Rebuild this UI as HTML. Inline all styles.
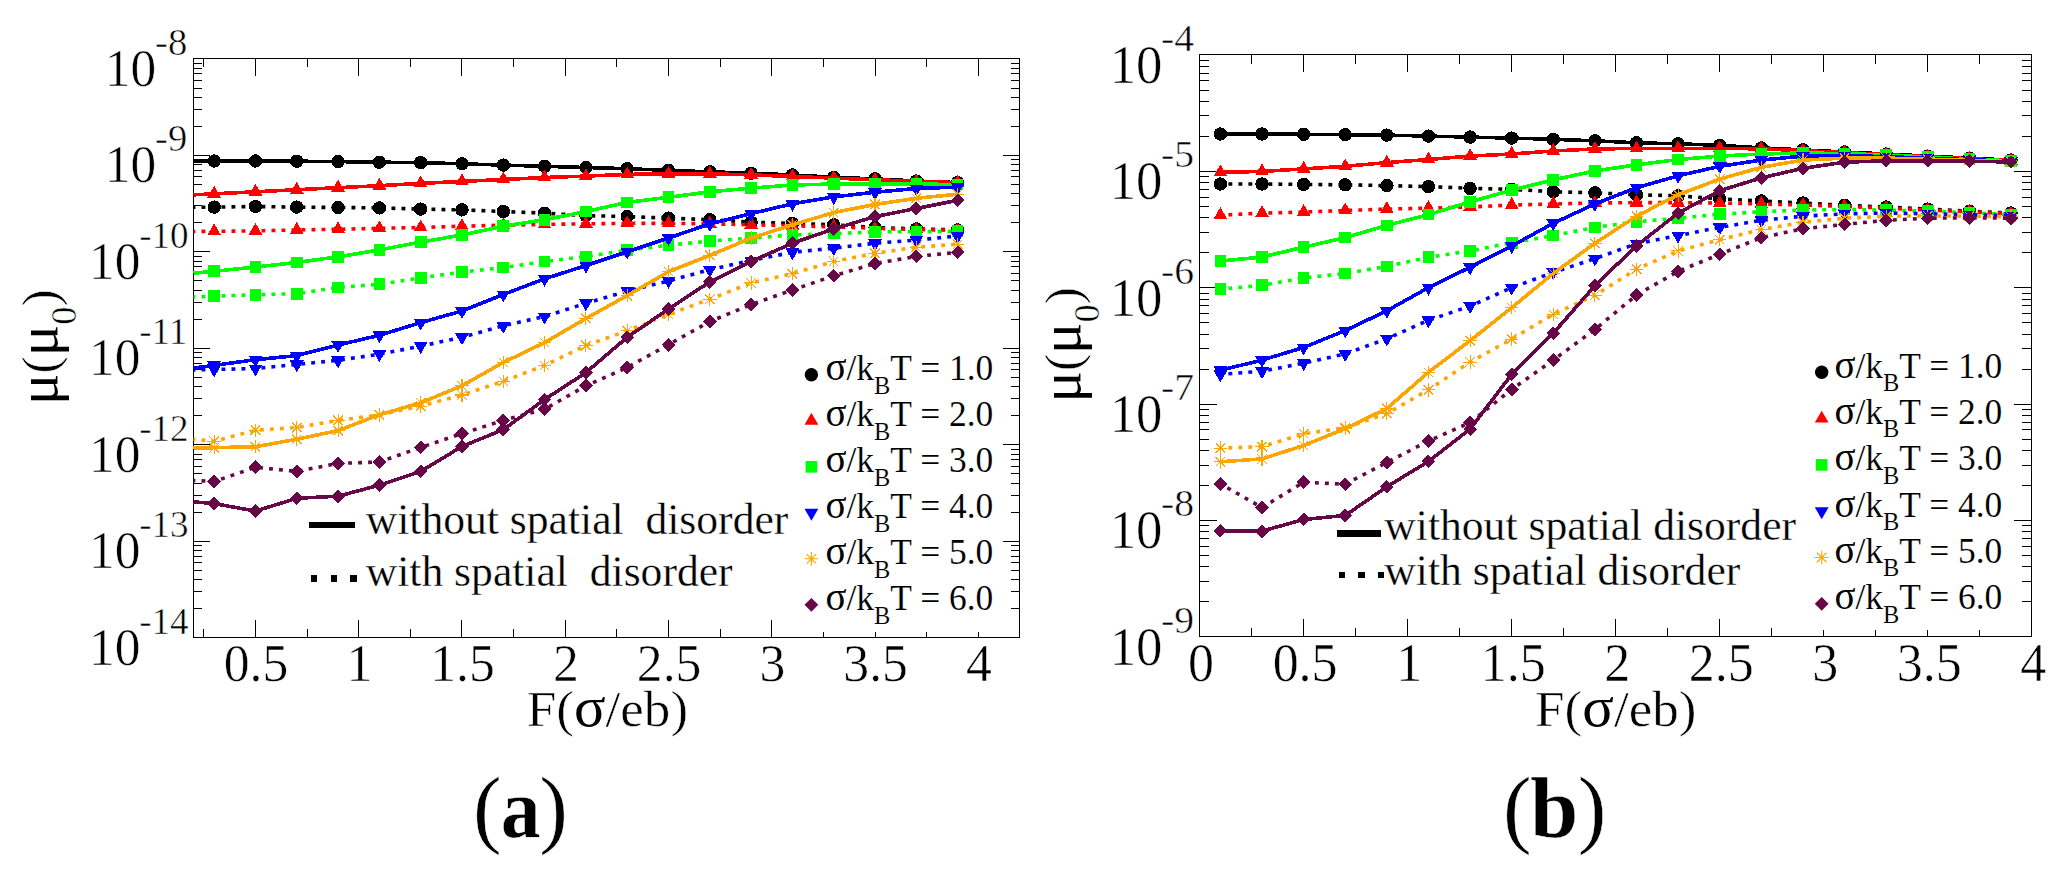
<!DOCTYPE html>
<html lang="en"><head><meta charset="utf-8"><title>Mobility versus field</title>
<style>html,body{margin:0;padding:0;background:#fff}body{width:2062px;height:873px;overflow:hidden}svg{display:block}text{font-family:'Liberation Serif','DejaVu Serif',serif;fill:#000;stroke:#fff;stroke-width:.5px}.gk{stroke:none}.m{stroke-width:.3px}.s{stroke-width:.12px}</style>
</head><body>
<svg width="2062" height="873" viewBox="0 0 2062 873">
<rect width="2062" height="873" fill="#fff"/>
<g id="panel-a">
<g shape-rendering="crispEdges">
<path d="M203.83 58.4v8.4M203.83 637.2v-8.4M255.46 58.4v17.4M255.46 637.2v-17.4M307.09 58.4v8.4M307.09 637.2v-8.4M358.72 58.4v17.4M358.72 637.2v-17.4M410.35 58.4v8.4M410.35 637.2v-8.4M461.98 58.4v17.4M461.98 637.2v-17.4M513.61 58.4v8.4M513.61 637.2v-8.4M565.25 58.4v17.4M565.25 637.2v-17.4M616.88 58.4v8.4M616.88 637.2v-8.4M668.51 58.4v17.4M668.51 637.2v-17.4M720.14 58.4v8.4M720.14 637.2v-8.4M771.77 58.4v17.4M771.77 637.2v-17.4M823.4 58.4v8.4M823.4 637.2v-5.4M875.03 58.4v17.4M875.03 637.2v-5.4M926.66 58.4v8.4M926.66 637.2v-5.4M978.29 58.4v17.4M978.29 637.2v-5.4M193.5 637.2h16.6M1019.6 637.2h-16.6M193.5 608.76h8.4M1019.6 608.76h-8.4M193.5 591.77h8.4M1019.6 591.77h-8.4M193.5 579.72h8.4M1019.6 579.72h-8.4M193.5 570.37h8.4M1019.6 570.37h-8.4M193.5 562.73h8.4M1019.6 562.73h-8.4M193.5 556.28h8.4M1019.6 556.28h-8.4M193.5 550.68h8.4M1019.6 550.68h-8.4M193.5 545.75h8.4M1019.6 545.75h-8.4M193.5 541.33h16.6M1019.6 541.33h-16.6M193.5 512.29h8.4M1019.6 512.29h-8.4M193.5 495.31h8.4M1019.6 495.31h-8.4M193.5 483.25h8.4M1019.6 483.25h-8.4M193.5 473.91h8.4M1019.6 473.91h-8.4M193.5 466.27h8.4M1019.6 466.27h-8.4M193.5 459.81h8.4M1019.6 459.81h-8.4M193.5 454.22h8.4M1019.6 454.22h-8.4M193.5 449.28h8.4M1019.6 449.28h-8.4M193.5 444.87h16.6M1019.6 444.87h-16.6M193.5 415.83h8.4M1019.6 415.83h-8.4M193.5 398.84h8.4M1019.6 398.84h-8.4M193.5 386.79h8.4M1019.6 386.79h-8.4M193.5 377.44h8.4M1019.6 377.44h-8.4M193.5 369.8h8.4M1019.6 369.8h-8.4M193.5 363.34h8.4M1019.6 363.34h-8.4M193.5 357.75h8.4M1019.6 357.75h-8.4M193.5 352.81h8.4M1019.6 352.81h-8.4M193.5 348.4h16.6M1019.6 348.4h-16.6M193.5 319.36h8.4M1019.6 319.36h-8.4M193.5 302.37h8.4M1019.6 302.37h-8.4M193.5 290.32h8.4M1019.6 290.32h-8.4M193.5 280.97h8.4M1019.6 280.97h-8.4M193.5 273.33h8.4M1019.6 273.33h-8.4M193.5 266.88h8.4M1019.6 266.88h-8.4M193.5 261.28h8.4M1019.6 261.28h-8.4M193.5 256.35h8.4M1019.6 256.35h-8.4M193.5 251.93h16.6M1019.6 251.93h-16.6M193.5 222.89h8.4M1019.6 222.89h-8.4M193.5 205.91h8.4M1019.6 205.91h-8.4M193.5 193.85h8.4M1019.6 193.85h-8.4M193.5 184.51h8.4M1019.6 184.51h-8.4M193.5 176.87h8.4M1019.6 176.87h-8.4M193.5 170.41h8.4M1019.6 170.41h-8.4M193.5 164.82h8.4M1019.6 164.82h-8.4M193.5 159.88h8.4M1019.6 159.88h-8.4M193.5 155.47h16.6M1019.6 155.47h-16.6M193.5 126.43h8.4M1019.6 126.43h-8.4M193.5 109.44h8.4M1019.6 109.44h-8.4M193.5 97.39h8.4M1019.6 97.39h-8.4M193.5 88.04h8.4M1019.6 88.04h-8.4M193.5 80.4h8.4M1019.6 80.4h-8.4M193.5 73.94h8.4M1019.6 73.94h-8.4M193.5 68.35h8.4M1019.6 68.35h-8.4M193.5 63.41h8.4M1019.6 63.41h-8.4M193.5 58.4h16.6M1019.6 58.4h-16.6" stroke="#000" stroke-width="1" fill="none"/>
<rect x="193.5" y="58.4" width="826.1" height="578.8" fill="none" stroke="#000" stroke-width="1"/>
</g>
<g shape-rendering="crispEdges">
<path d="M193.5 161L214.15 161L255.46 161L296.76 161.2L338.07 161.6L379.37 162.2L420.68 162.6L461.98 163.8L503.29 165.1L544.59 166.3L585.9 167.5L627.2 168.7L668.51 170.4L709.81 171.8L751.12 173.2L792.42 174.9L833.73 177.3L875.03 178.9L916.34 181L957.64 182.6" stroke="#000000" stroke-width="3.6" fill="none" stroke-linejoin="round"/>
<circle cx="214.15" cy="161" r="6.7" fill="#000000"/><circle cx="255.46" cy="161" r="6.7" fill="#000000"/><circle cx="296.76" cy="161.2" r="6.7" fill="#000000"/><circle cx="338.07" cy="161.6" r="6.7" fill="#000000"/><circle cx="379.37" cy="162.2" r="6.7" fill="#000000"/><circle cx="420.68" cy="162.6" r="6.7" fill="#000000"/><circle cx="461.98" cy="163.8" r="6.7" fill="#000000"/><circle cx="503.29" cy="165.1" r="6.7" fill="#000000"/><circle cx="544.59" cy="166.3" r="6.7" fill="#000000"/><circle cx="585.9" cy="167.5" r="6.7" fill="#000000"/><circle cx="627.2" cy="168.7" r="6.7" fill="#000000"/><circle cx="668.51" cy="170.4" r="6.7" fill="#000000"/><circle cx="709.81" cy="171.8" r="6.7" fill="#000000"/><circle cx="751.12" cy="173.2" r="6.7" fill="#000000"/><circle cx="792.42" cy="174.9" r="6.7" fill="#000000"/><circle cx="833.73" cy="177.3" r="6.7" fill="#000000"/><circle cx="875.03" cy="178.9" r="6.7" fill="#000000"/><circle cx="916.34" cy="181" r="6.7" fill="#000000"/><circle cx="957.64" cy="182.6" r="6.7" fill="#000000"/>
<path d="M193.5 207.3L214.15 207.1L255.46 206.5L296.76 207.1L338.07 207.5L379.37 207.9L420.68 209.1L461.98 209.9L503.29 211.5L544.59 213.2L585.9 215.6L627.2 216.6L668.51 218.1L709.81 219.7L751.12 222.2L792.42 223.4L833.73 224.8L875.03 227.5L916.34 228.9L957.64 229.9" stroke="#000000" stroke-width="3.6" fill="none" stroke-linejoin="round" stroke-dasharray="3.9 6.1" stroke-dashoffset="2" shape-rendering="geometricPrecision"/>
<circle cx="214.15" cy="207.1" r="6.7" fill="#000000"/><circle cx="255.46" cy="206.5" r="6.7" fill="#000000"/><circle cx="296.76" cy="207.1" r="6.7" fill="#000000"/><circle cx="338.07" cy="207.5" r="6.7" fill="#000000"/><circle cx="379.37" cy="207.9" r="6.7" fill="#000000"/><circle cx="420.68" cy="209.1" r="6.7" fill="#000000"/><circle cx="461.98" cy="209.9" r="6.7" fill="#000000"/><circle cx="503.29" cy="211.5" r="6.7" fill="#000000"/><circle cx="544.59" cy="213.2" r="6.7" fill="#000000"/><circle cx="585.9" cy="215.6" r="6.7" fill="#000000"/><circle cx="627.2" cy="216.6" r="6.7" fill="#000000"/><circle cx="668.51" cy="218.1" r="6.7" fill="#000000"/><circle cx="709.81" cy="219.7" r="6.7" fill="#000000"/><circle cx="751.12" cy="222.2" r="6.7" fill="#000000"/><circle cx="792.42" cy="223.4" r="6.7" fill="#000000"/><circle cx="833.73" cy="224.8" r="6.7" fill="#000000"/><circle cx="875.03" cy="227.5" r="6.7" fill="#000000"/><circle cx="916.34" cy="228.9" r="6.7" fill="#000000"/><circle cx="957.64" cy="229.9" r="6.7" fill="#000000"/>
<path d="M193.5 194.8L214.15 193.8L255.46 191.8L296.76 189.7L338.07 187.7L379.37 185.7L420.68 183.4L461.98 181.4L503.29 179.5L544.59 177.5L585.9 176.1L627.2 174.4L668.51 173.8L709.81 173.8L751.12 174.9L792.42 176.5L833.73 178.1L875.03 179.7L916.34 181.4L957.64 182.6" stroke="#ff0000" stroke-width="3.6" fill="none" stroke-linejoin="round"/>
<path d="M214.15 185.83L221.05 197.78L207.25 197.78Z" fill="#ff0000"/><path d="M255.46 183.83L262.36 195.78L248.56 195.78Z" fill="#ff0000"/><path d="M296.76 181.73L303.66 193.68L289.86 193.68Z" fill="#ff0000"/><path d="M338.07 179.73L344.97 191.68L331.17 191.68Z" fill="#ff0000"/><path d="M379.37 177.73L386.27 189.68L372.47 189.68Z" fill="#ff0000"/><path d="M420.68 175.43L427.58 187.38L413.78 187.38Z" fill="#ff0000"/><path d="M461.98 173.43L468.88 185.38L455.08 185.38Z" fill="#ff0000"/><path d="M503.29 171.53L510.19 183.48L496.39 183.48Z" fill="#ff0000"/><path d="M544.59 169.53L551.49 181.48L537.69 181.48Z" fill="#ff0000"/><path d="M585.9 168.13L592.8 180.08L579 180.08Z" fill="#ff0000"/><path d="M627.2 166.43L634.1 178.38L620.3 178.38Z" fill="#ff0000"/><path d="M668.51 165.83L675.41 177.78L661.61 177.78Z" fill="#ff0000"/><path d="M709.81 165.83L716.71 177.78L702.91 177.78Z" fill="#ff0000"/><path d="M751.12 166.93L758.02 178.88L744.22 178.88Z" fill="#ff0000"/><path d="M792.42 168.53L799.32 180.48L785.52 180.48Z" fill="#ff0000"/><path d="M833.73 170.13L840.63 182.08L826.83 182.08Z" fill="#ff0000"/><path d="M875.03 171.73L881.93 183.68L868.13 183.68Z" fill="#ff0000"/><path d="M916.34 173.43L923.24 185.38L909.44 185.38Z" fill="#ff0000"/><path d="M957.64 174.63L964.54 186.58L950.74 186.58Z" fill="#ff0000"/>
<path d="M193.5 231.5L214.15 231.3L255.46 230.9L296.76 229.9L338.07 229.3L379.37 228.3L420.68 227.5L461.98 226.2L503.29 225.2L544.59 224.4L585.9 223.8L627.2 223.4L668.51 223.4L709.81 223.8L751.12 224.8L792.42 225.8L833.73 226.8L875.03 228.3L916.34 229.5L957.64 230.3" stroke="#ff0000" stroke-width="3.6" fill="none" stroke-linejoin="round" stroke-dasharray="3.9 6.1" stroke-dashoffset="2" shape-rendering="geometricPrecision"/>
<path d="M214.15 223.33L221.05 235.28L207.25 235.28Z" fill="#ff0000"/><path d="M255.46 222.93L262.36 234.88L248.56 234.88Z" fill="#ff0000"/><path d="M296.76 221.93L303.66 233.88L289.86 233.88Z" fill="#ff0000"/><path d="M338.07 221.33L344.97 233.28L331.17 233.28Z" fill="#ff0000"/><path d="M379.37 220.33L386.27 232.28L372.47 232.28Z" fill="#ff0000"/><path d="M420.68 219.53L427.58 231.48L413.78 231.48Z" fill="#ff0000"/><path d="M461.98 218.23L468.88 230.18L455.08 230.18Z" fill="#ff0000"/><path d="M503.29 217.23L510.19 229.18L496.39 229.18Z" fill="#ff0000"/><path d="M544.59 216.43L551.49 228.38L537.69 228.38Z" fill="#ff0000"/><path d="M585.9 215.83L592.8 227.78L579 227.78Z" fill="#ff0000"/><path d="M627.2 215.43L634.1 227.38L620.3 227.38Z" fill="#ff0000"/><path d="M668.51 215.43L675.41 227.38L661.61 227.38Z" fill="#ff0000"/><path d="M709.81 215.83L716.71 227.78L702.91 227.78Z" fill="#ff0000"/><path d="M751.12 216.83L758.02 228.78L744.22 228.78Z" fill="#ff0000"/><path d="M792.42 217.83L799.32 229.78L785.52 229.78Z" fill="#ff0000"/><path d="M833.73 218.83L840.63 230.78L826.83 230.78Z" fill="#ff0000"/><path d="M875.03 220.33L881.93 232.28L868.13 232.28Z" fill="#ff0000"/><path d="M916.34 221.53L923.24 233.48L909.44 233.48Z" fill="#ff0000"/><path d="M957.64 222.33L964.54 234.28L950.74 234.28Z" fill="#ff0000"/>
<path d="M193.5 273.15L214.15 271.3L255.46 267L296.76 262.5L338.07 256.8L379.37 249.9L420.68 242.1L461.98 235L503.29 226.2L544.59 219.7L585.9 211.5L627.2 202.4L668.51 197.3L709.81 191.8L751.12 188.1L792.42 185L833.73 184L875.03 184L916.34 184L957.64 184.6" stroke="#00ff00" stroke-width="3.6" fill="none" stroke-linejoin="round"/>
<rect x="208.31" y="265.46" width="11.68" height="11.68" fill="#00ff00"/><rect x="249.62" y="261.16" width="11.68" height="11.68" fill="#00ff00"/><rect x="290.92" y="256.66" width="11.68" height="11.68" fill="#00ff00"/><rect x="332.23" y="250.96" width="11.68" height="11.68" fill="#00ff00"/><rect x="373.53" y="244.06" width="11.68" height="11.68" fill="#00ff00"/><rect x="414.84" y="236.26" width="11.68" height="11.68" fill="#00ff00"/><rect x="456.14" y="229.16" width="11.68" height="11.68" fill="#00ff00"/><rect x="497.45" y="220.36" width="11.68" height="11.68" fill="#00ff00"/><rect x="538.75" y="213.86" width="11.68" height="11.68" fill="#00ff00"/><rect x="580.06" y="205.66" width="11.68" height="11.68" fill="#00ff00"/><rect x="621.36" y="196.56" width="11.68" height="11.68" fill="#00ff00"/><rect x="662.67" y="191.46" width="11.68" height="11.68" fill="#00ff00"/><rect x="703.97" y="185.96" width="11.68" height="11.68" fill="#00ff00"/><rect x="745.28" y="182.26" width="11.68" height="11.68" fill="#00ff00"/><rect x="786.58" y="179.16" width="11.68" height="11.68" fill="#00ff00"/><rect x="827.89" y="178.16" width="11.68" height="11.68" fill="#00ff00"/><rect x="869.19" y="178.16" width="11.68" height="11.68" fill="#00ff00"/><rect x="910.5" y="178.16" width="11.68" height="11.68" fill="#00ff00"/><rect x="951.8" y="178.76" width="11.68" height="11.68" fill="#00ff00"/>
<path d="M193.5 296.85L214.15 296.2L255.46 294.7L296.76 293.7L338.07 287.4L379.37 284.3L420.68 277.8L461.98 272.1L503.29 267.6L544.59 261.5L585.9 256.4L627.2 250.3L668.51 245.2L709.81 241.1L751.12 238.1L792.42 235L833.73 233.6L875.03 231.9L916.34 231.5L957.64 231.3" stroke="#00ff00" stroke-width="3.6" fill="none" stroke-linejoin="round" stroke-dasharray="3.9 6.1" stroke-dashoffset="2" shape-rendering="geometricPrecision"/>
<rect x="208.31" y="290.36" width="11.68" height="11.68" fill="#00ff00"/><rect x="249.62" y="288.86" width="11.68" height="11.68" fill="#00ff00"/><rect x="290.92" y="287.86" width="11.68" height="11.68" fill="#00ff00"/><rect x="332.23" y="281.56" width="11.68" height="11.68" fill="#00ff00"/><rect x="373.53" y="278.46" width="11.68" height="11.68" fill="#00ff00"/><rect x="414.84" y="271.96" width="11.68" height="11.68" fill="#00ff00"/><rect x="456.14" y="266.26" width="11.68" height="11.68" fill="#00ff00"/><rect x="497.45" y="261.76" width="11.68" height="11.68" fill="#00ff00"/><rect x="538.75" y="255.66" width="11.68" height="11.68" fill="#00ff00"/><rect x="580.06" y="250.56" width="11.68" height="11.68" fill="#00ff00"/><rect x="621.36" y="244.46" width="11.68" height="11.68" fill="#00ff00"/><rect x="662.67" y="239.36" width="11.68" height="11.68" fill="#00ff00"/><rect x="703.97" y="235.26" width="11.68" height="11.68" fill="#00ff00"/><rect x="745.28" y="232.26" width="11.68" height="11.68" fill="#00ff00"/><rect x="786.58" y="229.16" width="11.68" height="11.68" fill="#00ff00"/><rect x="827.89" y="227.76" width="11.68" height="11.68" fill="#00ff00"/><rect x="869.19" y="226.06" width="11.68" height="11.68" fill="#00ff00"/><rect x="910.5" y="225.66" width="11.68" height="11.68" fill="#00ff00"/><rect x="951.8" y="225.46" width="11.68" height="11.68" fill="#00ff00"/>
<path d="M193.5 367.95L214.15 365.4L255.46 359.7L296.76 355.6L338.07 345L379.37 335.3L420.68 322.6L461.98 311L503.29 294.5L544.59 278.8L585.9 265.6L627.2 251.7L668.51 238.1L709.81 223.8L751.12 213.6L792.42 203.8L833.73 196.9L875.03 192.2L916.34 188.5L957.64 187.1" stroke="#0000ff" stroke-width="3.6" fill="none" stroke-linejoin="round"/>
<path d="M214.15 373.37L221.05 361.42L207.25 361.42Z" fill="#0000ff"/><path d="M255.46 367.67L262.36 355.72L248.56 355.72Z" fill="#0000ff"/><path d="M296.76 363.57L303.66 351.62L289.86 351.62Z" fill="#0000ff"/><path d="M338.07 352.97L344.97 341.02L331.17 341.02Z" fill="#0000ff"/><path d="M379.37 343.27L386.27 331.32L372.47 331.32Z" fill="#0000ff"/><path d="M420.68 330.57L427.58 318.62L413.78 318.62Z" fill="#0000ff"/><path d="M461.98 318.97L468.88 307.02L455.08 307.02Z" fill="#0000ff"/><path d="M503.29 302.47L510.19 290.52L496.39 290.52Z" fill="#0000ff"/><path d="M544.59 286.77L551.49 274.82L537.69 274.82Z" fill="#0000ff"/><path d="M585.9 273.57L592.8 261.62L579 261.62Z" fill="#0000ff"/><path d="M627.2 259.67L634.1 247.72L620.3 247.72Z" fill="#0000ff"/><path d="M668.51 246.07L675.41 234.12L661.61 234.12Z" fill="#0000ff"/><path d="M709.81 231.77L716.71 219.82L702.91 219.82Z" fill="#0000ff"/><path d="M751.12 221.57L758.02 209.62L744.22 209.62Z" fill="#0000ff"/><path d="M792.42 211.77L799.32 199.82L785.52 199.82Z" fill="#0000ff"/><path d="M833.73 204.87L840.63 192.92L826.83 192.92Z" fill="#0000ff"/><path d="M875.03 200.17L881.93 188.22L868.13 188.22Z" fill="#0000ff"/><path d="M916.34 196.47L923.24 184.52L909.44 184.52Z" fill="#0000ff"/><path d="M957.64 195.07L964.54 183.12L950.74 183.12Z" fill="#0000ff"/>
<path d="M193.5 370L214.15 369.5L255.46 368.5L296.76 364.4L338.07 360.3L379.37 354.2L420.68 346.1L461.98 337.3L503.29 325.7L544.59 316.5L585.9 303.3L627.2 291.1L668.51 280.9L709.81 269.7L751.12 260.5L792.42 252.3L833.73 248.2L875.03 243.2L916.34 240.1L957.64 236" stroke="#0000ff" stroke-width="3.6" fill="none" stroke-linejoin="round" stroke-dasharray="3.9 6.1" stroke-dashoffset="2" shape-rendering="geometricPrecision"/>
<path d="M214.15 377.47L221.05 365.52L207.25 365.52Z" fill="#0000ff"/><path d="M255.46 376.47L262.36 364.52L248.56 364.52Z" fill="#0000ff"/><path d="M296.76 372.37L303.66 360.42L289.86 360.42Z" fill="#0000ff"/><path d="M338.07 368.27L344.97 356.32L331.17 356.32Z" fill="#0000ff"/><path d="M379.37 362.17L386.27 350.22L372.47 350.22Z" fill="#0000ff"/><path d="M420.68 354.07L427.58 342.12L413.78 342.12Z" fill="#0000ff"/><path d="M461.98 345.27L468.88 333.32L455.08 333.32Z" fill="#0000ff"/><path d="M503.29 333.67L510.19 321.72L496.39 321.72Z" fill="#0000ff"/><path d="M544.59 324.47L551.49 312.52L537.69 312.52Z" fill="#0000ff"/><path d="M585.9 311.27L592.8 299.32L579 299.32Z" fill="#0000ff"/><path d="M627.2 299.07L634.1 287.12L620.3 287.12Z" fill="#0000ff"/><path d="M668.51 288.87L675.41 276.92L661.61 276.92Z" fill="#0000ff"/><path d="M709.81 277.67L716.71 265.72L702.91 265.72Z" fill="#0000ff"/><path d="M751.12 268.47L758.02 256.52L744.22 256.52Z" fill="#0000ff"/><path d="M792.42 260.27L799.32 248.32L785.52 248.32Z" fill="#0000ff"/><path d="M833.73 256.17L840.63 244.22L826.83 244.22Z" fill="#0000ff"/><path d="M875.03 251.17L881.93 239.22L868.13 239.22Z" fill="#0000ff"/><path d="M916.34 248.07L923.24 236.12L909.44 236.12Z" fill="#0000ff"/><path d="M957.64 243.97L964.54 232.02L950.74 232.02Z" fill="#0000ff"/>
<path d="M193.5 448.1L214.15 447.7L255.46 446.7L296.76 439.3L338.07 430.6L379.37 414.8L420.68 402.8L461.98 385.8L503.29 362.4L544.59 342.6L585.9 318.5L627.2 295.6L668.51 271.7L709.81 255.4L751.12 238.1L792.42 224.8L833.73 212.6L875.03 204.4L916.34 198.3L957.64 194.2" stroke="#ffa500" stroke-width="3.6" fill="none" stroke-linejoin="round"/>
<path d="M207.45 447.7H220.85M214.15 441V454.4M209.42 442.96L218.89 452.44M209.42 452.44L218.89 442.96" stroke="#ffa500" stroke-width="1.1" fill="none"/><path d="M248.76 446.7H262.16M255.46 440V453.4M250.72 441.96L260.19 451.44M250.72 451.44L260.19 441.96" stroke="#ffa500" stroke-width="1.1" fill="none"/><path d="M290.06 439.3H303.46M296.76 432.6V446M292.03 434.56L301.5 444.04M292.03 444.04L301.5 434.56" stroke="#ffa500" stroke-width="1.1" fill="none"/><path d="M331.37 430.6H344.77M338.07 423.9V437.3M333.33 425.86L342.8 435.34M333.33 435.34L342.8 425.86" stroke="#ffa500" stroke-width="1.1" fill="none"/><path d="M372.67 414.8H386.07M379.37 408.1V421.5M374.64 410.06L384.11 419.54M374.64 419.54L384.11 410.06" stroke="#ffa500" stroke-width="1.1" fill="none"/><path d="M413.98 402.8H427.38M420.68 396.1V409.5M415.94 398.06L425.41 407.54M415.94 407.54L425.41 398.06" stroke="#ffa500" stroke-width="1.1" fill="none"/><path d="M455.28 385.8H468.68M461.98 379.1V392.5M457.25 381.06L466.72 390.54M457.25 390.54L466.72 381.06" stroke="#ffa500" stroke-width="1.1" fill="none"/><path d="M496.59 362.4H509.99M503.29 355.7V369.1M498.55 357.66L508.02 367.14M498.55 367.14L508.02 357.66" stroke="#ffa500" stroke-width="1.1" fill="none"/><path d="M537.89 342.6H551.29M544.59 335.9V349.3M539.86 337.86L549.33 347.34M539.86 347.34L549.33 337.86" stroke="#ffa500" stroke-width="1.1" fill="none"/><path d="M579.2 318.5H592.6M585.9 311.8V325.2M581.16 313.76L590.63 323.24M581.16 323.24L590.63 313.76" stroke="#ffa500" stroke-width="1.1" fill="none"/><path d="M620.5 295.6H633.9M627.2 288.9V302.3M622.47 290.86L631.94 300.34M622.47 300.34L631.94 290.86" stroke="#ffa500" stroke-width="1.1" fill="none"/><path d="M661.81 271.7H675.21M668.51 265V278.4M663.77 266.96L673.24 276.44M663.77 276.44L673.24 266.96" stroke="#ffa500" stroke-width="1.1" fill="none"/><path d="M703.11 255.4H716.51M709.81 248.7V262.1M705.08 250.66L714.55 260.14M705.08 260.14L714.55 250.66" stroke="#ffa500" stroke-width="1.1" fill="none"/><path d="M744.42 238.1H757.82M751.12 231.4V244.8M746.38 233.36L755.85 242.84M746.38 242.84L755.85 233.36" stroke="#ffa500" stroke-width="1.1" fill="none"/><path d="M785.72 224.8H799.12M792.42 218.1V231.5M787.69 220.06L797.16 229.54M787.69 229.54L797.16 220.06" stroke="#ffa500" stroke-width="1.1" fill="none"/><path d="M827.03 212.6H840.43M833.73 205.9V219.3M828.99 207.86L838.46 217.34M828.99 217.34L838.46 207.86" stroke="#ffa500" stroke-width="1.1" fill="none"/><path d="M868.33 204.4H881.73M875.03 197.7V211.1M870.3 199.66L879.77 209.14M870.3 209.14L879.77 199.66" stroke="#ffa500" stroke-width="1.1" fill="none"/><path d="M909.64 198.3H923.04M916.34 191.6V205M911.6 193.56L921.07 203.04M911.6 203.04L921.07 193.56" stroke="#ffa500" stroke-width="1.1" fill="none"/><path d="M950.94 194.2H964.34M957.64 187.5V200.9M952.91 189.46L962.38 198.94M952.91 198.94L962.38 189.46" stroke="#ffa500" stroke-width="1.1" fill="none"/>
<path d="M193.5 439.15L214.15 441.3L255.46 430.2L296.76 427.5L338.07 420.4L379.37 414.9L420.68 406.1L461.98 395L503.29 381.3L544.59 365.4L585.9 345.5L627.2 330.8L668.51 314.5L709.81 299.2L751.12 282.9L792.42 273.7L833.73 261.5L875.03 253.3L916.34 247.2L957.64 244.2" stroke="#ffa500" stroke-width="3.6" fill="none" stroke-linejoin="round" stroke-dasharray="3.9 6.1" stroke-dashoffset="2" shape-rendering="geometricPrecision"/>
<path d="M207.45 441.3H220.85M214.15 434.6V448M209.42 436.56L218.89 446.04M209.42 446.04L218.89 436.56" stroke="#ffa500" stroke-width="1.1" fill="none"/><path d="M248.76 430.2H262.16M255.46 423.5V436.9M250.72 425.46L260.19 434.94M250.72 434.94L260.19 425.46" stroke="#ffa500" stroke-width="1.1" fill="none"/><path d="M290.06 427.5H303.46M296.76 420.8V434.2M292.03 422.76L301.5 432.24M292.03 432.24L301.5 422.76" stroke="#ffa500" stroke-width="1.1" fill="none"/><path d="M331.37 420.4H344.77M338.07 413.7V427.1M333.33 415.66L342.8 425.14M333.33 425.14L342.8 415.66" stroke="#ffa500" stroke-width="1.1" fill="none"/><path d="M372.67 414.9H386.07M379.37 408.2V421.6M374.64 410.16L384.11 419.64M374.64 419.64L384.11 410.16" stroke="#ffa500" stroke-width="1.1" fill="none"/><path d="M413.98 406.1H427.38M420.68 399.4V412.8M415.94 401.36L425.41 410.84M415.94 410.84L425.41 401.36" stroke="#ffa500" stroke-width="1.1" fill="none"/><path d="M455.28 395H468.68M461.98 388.3V401.7M457.25 390.26L466.72 399.74M457.25 399.74L466.72 390.26" stroke="#ffa500" stroke-width="1.1" fill="none"/><path d="M496.59 381.3H509.99M503.29 374.6V388M498.55 376.56L508.02 386.04M498.55 386.04L508.02 376.56" stroke="#ffa500" stroke-width="1.1" fill="none"/><path d="M537.89 365.4H551.29M544.59 358.7V372.1M539.86 360.66L549.33 370.14M539.86 370.14L549.33 360.66" stroke="#ffa500" stroke-width="1.1" fill="none"/><path d="M579.2 345.5H592.6M585.9 338.8V352.2M581.16 340.76L590.63 350.24M581.16 350.24L590.63 340.76" stroke="#ffa500" stroke-width="1.1" fill="none"/><path d="M620.5 330.8H633.9M627.2 324.1V337.5M622.47 326.06L631.94 335.54M622.47 335.54L631.94 326.06" stroke="#ffa500" stroke-width="1.1" fill="none"/><path d="M661.81 314.5H675.21M668.51 307.8V321.2M663.77 309.76L673.24 319.24M663.77 319.24L673.24 309.76" stroke="#ffa500" stroke-width="1.1" fill="none"/><path d="M703.11 299.2H716.51M709.81 292.5V305.9M705.08 294.46L714.55 303.94M705.08 303.94L714.55 294.46" stroke="#ffa500" stroke-width="1.1" fill="none"/><path d="M744.42 282.9H757.82M751.12 276.2V289.6M746.38 278.16L755.85 287.64M746.38 287.64L755.85 278.16" stroke="#ffa500" stroke-width="1.1" fill="none"/><path d="M785.72 273.7H799.12M792.42 267V280.4M787.69 268.96L797.16 278.44M787.69 278.44L797.16 268.96" stroke="#ffa500" stroke-width="1.1" fill="none"/><path d="M827.03 261.5H840.43M833.73 254.8V268.2M828.99 256.76L838.46 266.24M828.99 266.24L838.46 256.76" stroke="#ffa500" stroke-width="1.1" fill="none"/><path d="M868.33 253.3H881.73M875.03 246.6V260M870.3 248.56L879.77 258.04M870.3 258.04L879.77 248.56" stroke="#ffa500" stroke-width="1.1" fill="none"/><path d="M909.64 247.2H923.04M916.34 240.5V253.9M911.6 242.46L921.07 251.94M911.6 251.94L921.07 242.46" stroke="#ffa500" stroke-width="1.1" fill="none"/><path d="M950.94 244.2H964.34M957.64 237.5V250.9M952.91 239.46L962.38 248.94M952.91 248.94L962.38 239.46" stroke="#ffa500" stroke-width="1.1" fill="none"/>
<path d="M193.5 501.8L214.15 503.6L255.46 511.1L296.76 498.3L338.07 496.2L379.37 485.2L420.68 471.4L461.98 446.5L503.29 429.6L544.59 399.5L585.9 372.6L627.2 337.3L668.51 309L709.81 281.9L751.12 261.5L792.42 243.2L833.73 228.9L875.03 216.6L916.34 208.5L957.64 200.3" stroke="#670748" stroke-width="3.6" fill="none" stroke-linejoin="round"/>
<path d="M214.15 496.7L221.05 503.6L214.15 510.5L207.25 503.6Z" fill="#670748"/><path d="M255.46 504.2L262.36 511.1L255.46 518L248.56 511.1Z" fill="#670748"/><path d="M296.76 491.4L303.66 498.3L296.76 505.2L289.86 498.3Z" fill="#670748"/><path d="M338.07 489.3L344.97 496.2L338.07 503.1L331.17 496.2Z" fill="#670748"/><path d="M379.37 478.3L386.27 485.2L379.37 492.1L372.47 485.2Z" fill="#670748"/><path d="M420.68 464.5L427.58 471.4L420.68 478.3L413.78 471.4Z" fill="#670748"/><path d="M461.98 439.6L468.88 446.5L461.98 453.4L455.08 446.5Z" fill="#670748"/><path d="M503.29 422.7L510.19 429.6L503.29 436.5L496.39 429.6Z" fill="#670748"/><path d="M544.59 392.6L551.49 399.5L544.59 406.4L537.69 399.5Z" fill="#670748"/><path d="M585.9 365.7L592.8 372.6L585.9 379.5L579 372.6Z" fill="#670748"/><path d="M627.2 330.4L634.1 337.3L627.2 344.2L620.3 337.3Z" fill="#670748"/><path d="M668.51 302.1L675.41 309L668.51 315.9L661.61 309Z" fill="#670748"/><path d="M709.81 275L716.71 281.9L709.81 288.8L702.91 281.9Z" fill="#670748"/><path d="M751.12 254.6L758.02 261.5L751.12 268.4L744.22 261.5Z" fill="#670748"/><path d="M792.42 236.3L799.32 243.2L792.42 250.1L785.52 243.2Z" fill="#670748"/><path d="M833.73 222L840.63 228.9L833.73 235.8L826.83 228.9Z" fill="#670748"/><path d="M875.03 209.7L881.93 216.6L875.03 223.5L868.13 216.6Z" fill="#670748"/><path d="M916.34 201.6L923.24 208.5L916.34 215.4L909.44 208.5Z" fill="#670748"/><path d="M957.64 193.4L964.54 200.3L957.64 207.2L950.74 200.3Z" fill="#670748"/>
<path d="M193.5 480.5L214.15 481.5L255.46 467.3L296.76 471.4L338.07 463.4L379.37 462L420.68 447.4L461.98 433.6L503.29 420.4L544.59 409.2L585.9 385.8L627.2 367.5L668.51 344.6L709.81 321.6L751.12 304.5L792.42 290L833.73 275.8L875.03 263.5L916.34 256.4L957.64 252.3" stroke="#670748" stroke-width="3.6" fill="none" stroke-linejoin="round" stroke-dasharray="3.9 6.1" stroke-dashoffset="2" shape-rendering="geometricPrecision"/>
<path d="M214.15 474.6L221.05 481.5L214.15 488.4L207.25 481.5Z" fill="#670748"/><path d="M255.46 460.4L262.36 467.3L255.46 474.2L248.56 467.3Z" fill="#670748"/><path d="M296.76 464.5L303.66 471.4L296.76 478.3L289.86 471.4Z" fill="#670748"/><path d="M338.07 456.5L344.97 463.4L338.07 470.3L331.17 463.4Z" fill="#670748"/><path d="M379.37 455.1L386.27 462L379.37 468.9L372.47 462Z" fill="#670748"/><path d="M420.68 440.5L427.58 447.4L420.68 454.3L413.78 447.4Z" fill="#670748"/><path d="M461.98 426.7L468.88 433.6L461.98 440.5L455.08 433.6Z" fill="#670748"/><path d="M503.29 413.5L510.19 420.4L503.29 427.3L496.39 420.4Z" fill="#670748"/><path d="M544.59 402.3L551.49 409.2L544.59 416.1L537.69 409.2Z" fill="#670748"/><path d="M585.9 378.9L592.8 385.8L585.9 392.7L579 385.8Z" fill="#670748"/><path d="M627.2 360.6L634.1 367.5L627.2 374.4L620.3 367.5Z" fill="#670748"/><path d="M668.51 337.7L675.41 344.6L668.51 351.5L661.61 344.6Z" fill="#670748"/><path d="M709.81 314.7L716.71 321.6L709.81 328.5L702.91 321.6Z" fill="#670748"/><path d="M751.12 297.6L758.02 304.5L751.12 311.4L744.22 304.5Z" fill="#670748"/><path d="M792.42 283.1L799.32 290L792.42 296.9L785.52 290Z" fill="#670748"/><path d="M833.73 268.9L840.63 275.8L833.73 282.7L826.83 275.8Z" fill="#670748"/><path d="M875.03 256.6L881.93 263.5L875.03 270.4L868.13 263.5Z" fill="#670748"/><path d="M916.34 249.5L923.24 256.4L916.34 263.3L909.44 256.4Z" fill="#670748"/><path d="M957.64 245.4L964.54 252.3L957.64 259.2L950.74 252.3Z" fill="#670748"/>
</g>
<text transform="translate(140.45 664.8) scale(0.97 1)" font-size="53" text-anchor="end">10</text>
<text transform="translate(139.23 633.5) scale(1 1)" font-size="37.1" text-anchor="start">-14</text>
<text transform="translate(140.45 568.33) scale(0.97 1)" font-size="53" text-anchor="end">10</text>
<text transform="translate(139.23 537.03) scale(1 1)" font-size="37.1" text-anchor="start">-13</text>
<text transform="translate(140.45 471.87) scale(0.97 1)" font-size="53" text-anchor="end">10</text>
<text transform="translate(139.23 440.57) scale(1 1)" font-size="37.1" text-anchor="start">-12</text>
<text transform="translate(140.45 375.4) scale(0.97 1)" font-size="53" text-anchor="end">10</text>
<text transform="translate(139.23 344.1) scale(1 1)" font-size="37.1" text-anchor="start">-11</text>
<text transform="translate(140.45 278.93) scale(0.97 1)" font-size="53" text-anchor="end">10</text>
<text transform="translate(139.23 247.63) scale(1 1)" font-size="37.1" text-anchor="start">-10</text>
<text transform="translate(156.25 182.47) scale(0.97 1)" font-size="53" text-anchor="end">10</text>
<text transform="translate(155.07 151.17) scale(1.04 1)" font-size="37.1" text-anchor="start">-9</text>
<text transform="translate(156.25 86) scale(0.97 1)" font-size="53" text-anchor="end">10</text>
<text transform="translate(155.07 54.7) scale(1.04 1)" font-size="37.1" text-anchor="start">-8</text>
<text transform="translate(256.06 681.4) scale(0.97 1)" font-size="53.3" text-anchor="middle">0.5</text>
<text transform="translate(359.32 681.4) scale(0.97 1)" font-size="53.3" text-anchor="middle">1</text>
<text transform="translate(462.58 681.4) scale(0.97 1)" font-size="53.3" text-anchor="middle">1.5</text>
<text transform="translate(565.85 681.4) scale(0.97 1)" font-size="53.3" text-anchor="middle">2</text>
<text transform="translate(669.11 681.4) scale(0.97 1)" font-size="53.3" text-anchor="middle">2.5</text>
<text transform="translate(772.37 681.4) scale(0.97 1)" font-size="53.3" text-anchor="middle">3</text>
<text transform="translate(875.63 681.4) scale(0.97 1)" font-size="53.3" text-anchor="middle">3.5</text>
<text transform="translate(978.89 681.4) scale(0.97 1)" font-size="53.3" text-anchor="middle">4</text>
<text transform="translate(607.4 725.8) scale(1.03 1)" font-size="51.5" text-anchor="middle">F(<tspan class="gk" font-size="57">σ</tspan>/eb)</text>
<text transform="translate(56.7 347.2) rotate(-90) scale(1.03 1)" font-size="50" text-anchor="middle"><tspan class="gk" font-size="57">μ</tspan>(<tspan class="gk" font-size="57">μ</tspan><tspan font-size="35.5" dy="19">0</tspan><tspan dy="-19">)</tspan></text>
<path d="M308.9 524.9H355.1" stroke="#000" stroke-width="6.8" shape-rendering="crispEdges"/>
<path d="M310.7 578.4H358" stroke="#000" stroke-width="6.4" stroke-dasharray="6.5 13.3" shape-rendering="crispEdges"/>
<text transform="translate(365.7 533.7) scale(0.98 1)" font-size="44.5" text-anchor="start" class="m" xml:space="preserve">without spatial  disorder</text>
<text transform="translate(365.7 585.9) scale(0.98 1)" font-size="44.5" text-anchor="start" class="m" xml:space="preserve">with spatial  disorder</text>
<circle cx="811.4" cy="374.8" r="6.7" fill="#000000"/>
<text transform="translate(825.4 380.1) scale(0.99 1)" font-size="35.8" text-anchor="start" class="s"><tspan class="gk" font-size="39.38">σ</tspan>/k<tspan font-size="24.7" dy="13.5">B</tspan><tspan dy="-13.5">T = 1.0</tspan></text>
<path d="M811.4 412.83L818.3 424.78L804.5 424.78Z" fill="#ff0000"/>
<text transform="translate(825.4 426.1) scale(0.99 1)" font-size="35.8" text-anchor="start" class="s"><tspan class="gk" font-size="39.38">σ</tspan>/k<tspan font-size="24.7" dy="13.5">B</tspan><tspan dy="-13.5">T = 2.0</tspan></text>
<rect x="805.56" y="460.96" width="11.68" height="11.68" fill="#00ff00"/>
<text transform="translate(825.4 472.1) scale(0.99 1)" font-size="35.8" text-anchor="start" class="s"><tspan class="gk" font-size="39.38">σ</tspan>/k<tspan font-size="24.7" dy="13.5">B</tspan><tspan dy="-13.5">T = 3.0</tspan></text>
<path d="M811.4 520.77L818.3 508.82L804.5 508.82Z" fill="#0000ff"/>
<text transform="translate(825.4 518.1) scale(0.99 1)" font-size="35.8" text-anchor="start" class="s"><tspan class="gk" font-size="39.38">σ</tspan>/k<tspan font-size="24.7" dy="13.5">B</tspan><tspan dy="-13.5">T = 4.0</tspan></text>
<path d="M804.7 558.8H818.1M811.4 552.1V565.5M806.66 554.06L816.14 563.54M806.66 563.54L816.14 554.06" stroke="#ffa500" stroke-width="1.1" fill="none"/>
<text transform="translate(825.4 564.1) scale(0.99 1)" font-size="35.8" text-anchor="start" class="s"><tspan class="gk" font-size="39.38">σ</tspan>/k<tspan font-size="24.7" dy="13.5">B</tspan><tspan dy="-13.5">T = 5.0</tspan></text>
<path d="M811.4 597.9L818.3 604.8L811.4 611.7L804.5 604.8Z" fill="#670748"/>
<text transform="translate(825.4 610.1) scale(0.99 1)" font-size="35.8" text-anchor="start" class="s"><tspan class="gk" font-size="39.38">σ</tspan>/k<tspan font-size="24.7" dy="13.5">B</tspan><tspan dy="-13.5">T = 6.0</tspan></text>
<text transform="translate(473 836.8) scale(1 1)" font-size="86" text-anchor="start">(</text>
<text transform="translate(500.8 837.2) scale(0.95 1)" font-size="84" text-anchor="start" font-weight="bold">a</text>
<text transform="translate(568 836.8) scale(1 1)" font-size="86" text-anchor="end">)</text>
</g>
<g id="panel-b">
<g shape-rendering="crispEdges">
<path d="M1199.6 54.4v17.5M1199.6 636.2v-17.5M1251.61 54.4v9.5M1251.61 636.2v-8.3M1303.62 54.4v17.5M1303.62 636.2v-17.5M1355.64 54.4v9.5M1355.64 636.2v-8.3M1407.65 54.4v17.5M1407.65 636.2v-17.5M1459.66 54.4v9.5M1459.66 636.2v-8.3M1511.67 54.4v17.5M1511.67 636.2v-17.5M1563.69 54.4v9.5M1563.69 636.2v-8.3M1615.7 54.4v17.5M1615.7 636.2v-17.5M1667.71 54.4v9.5M1667.71 636.2v-8.3M1719.72 54.4v17.5M1719.72 636.2v-17.5M1771.74 54.4v9.5M1771.74 636.2v-8.3M1823.75 54.4v17.5M1823.75 636.2v-5.8M1875.76 54.4v9.5M1875.76 636.2v-5.8M1927.78 54.4v17.5M1927.78 636.2v-5.8M1979.79 54.4v9.5M1979.79 636.2v-5.8M2031.8 54.4v17.5M2031.8 636.2v-5.8M1199.6 636.2h17.4M2031.8 636.2h-17.4M1199.6 601.87h9.4M2031.8 601.87h-9.4M1199.6 581.38h9.4M2031.8 581.38h-9.4M1199.6 566.84h9.4M2031.8 566.84h-9.4M1199.6 555.57h9.4M2031.8 555.57h-9.4M1199.6 546.35h9.4M2031.8 546.35h-9.4M1199.6 538.56h9.4M2031.8 538.56h-9.4M1199.6 531.82h9.4M2031.8 531.82h-9.4M1199.6 525.86h9.4M2031.8 525.86h-9.4M1199.6 520.54h17.4M2031.8 520.54h-17.4M1199.6 485.51h9.4M2031.8 485.51h-9.4M1199.6 465.02h9.4M2031.8 465.02h-9.4M1199.6 450.48h9.4M2031.8 450.48h-9.4M1199.6 439.21h9.4M2031.8 439.21h-9.4M1199.6 429.99h9.4M2031.8 429.99h-9.4M1199.6 422.2h9.4M2031.8 422.2h-9.4M1199.6 415.46h9.4M2031.8 415.46h-9.4M1199.6 409.5h9.4M2031.8 409.5h-9.4M1199.6 404.18h17.4M2031.8 404.18h-17.4M1199.6 369.15h9.4M2031.8 369.15h-9.4M1199.6 348.66h9.4M2031.8 348.66h-9.4M1199.6 334.12h9.4M2031.8 334.12h-9.4M1199.6 322.85h9.4M2031.8 322.85h-9.4M1199.6 313.63h9.4M2031.8 313.63h-9.4M1199.6 305.84h9.4M2031.8 305.84h-9.4M1199.6 299.1h9.4M2031.8 299.1h-9.4M1199.6 293.14h9.4M2031.8 293.14h-9.4M1199.6 287.82h17.4M2031.8 287.82h-17.4M1199.6 252.79h9.4M2031.8 252.79h-9.4M1199.6 232.3h9.4M2031.8 232.3h-9.4M1199.6 217.76h9.4M2031.8 217.76h-9.4M1199.6 206.49h9.4M2031.8 206.49h-9.4M1199.6 197.27h9.4M2031.8 197.27h-9.4M1199.6 189.48h9.4M2031.8 189.48h-9.4M1199.6 182.74h9.4M2031.8 182.74h-9.4M1199.6 176.78h9.4M2031.8 176.78h-9.4M1199.6 171.46h17.4M2031.8 171.46h-17.4M1199.6 136.43h9.4M2031.8 136.43h-9.4M1199.6 115.94h9.4M2031.8 115.94h-9.4M1199.6 101.4h9.4M2031.8 101.4h-9.4M1199.6 90.13h9.4M2031.8 90.13h-9.4M1199.6 80.91h9.4M2031.8 80.91h-9.4M1199.6 73.12h9.4M2031.8 73.12h-9.4M1199.6 66.38h9.4M2031.8 66.38h-9.4M1199.6 60.42h9.4M2031.8 60.42h-9.4M1199.6 54.4h17.4M2031.8 54.4h-17.4" stroke="#000" stroke-width="1" fill="none"/>
<rect x="1199.6" y="54.4" width="832.2" height="581.8" fill="none" stroke="#000" stroke-width="1"/>
</g>
<g shape-rendering="crispEdges">
<path d="M1220.4 134L1262.01 134L1303.62 134.3L1345.23 134.7L1386.84 135.1L1428.45 136.1L1470.07 137.1L1511.67 138.1L1553.28 139.3L1594.89 140.8L1636.5 142.8L1678.12 143.8L1719.72 145.3L1761.34 147.9L1802.95 149.9L1844.55 152L1886.16 154L1927.78 156.1L1969.38 158.1L2010.99 160.1" stroke="#000000" stroke-width="3.6" fill="none" stroke-linejoin="round"/>
<circle cx="1220.4" cy="134" r="6.7" fill="#000000"/><circle cx="1262.01" cy="134" r="6.7" fill="#000000"/><circle cx="1303.62" cy="134.3" r="6.7" fill="#000000"/><circle cx="1345.23" cy="134.7" r="6.7" fill="#000000"/><circle cx="1386.84" cy="135.1" r="6.7" fill="#000000"/><circle cx="1428.45" cy="136.1" r="6.7" fill="#000000"/><circle cx="1470.07" cy="137.1" r="6.7" fill="#000000"/><circle cx="1511.67" cy="138.1" r="6.7" fill="#000000"/><circle cx="1553.28" cy="139.3" r="6.7" fill="#000000"/><circle cx="1594.89" cy="140.8" r="6.7" fill="#000000"/><circle cx="1636.5" cy="142.8" r="6.7" fill="#000000"/><circle cx="1678.12" cy="143.8" r="6.7" fill="#000000"/><circle cx="1719.72" cy="145.3" r="6.7" fill="#000000"/><circle cx="1761.34" cy="147.9" r="6.7" fill="#000000"/><circle cx="1802.95" cy="149.9" r="6.7" fill="#000000"/><circle cx="1844.55" cy="152" r="6.7" fill="#000000"/><circle cx="1886.16" cy="154" r="6.7" fill="#000000"/><circle cx="1927.78" cy="156.1" r="6.7" fill="#000000"/><circle cx="1969.38" cy="158.1" r="6.7" fill="#000000"/><circle cx="2010.99" cy="160.1" r="6.7" fill="#000000"/>
<path d="M1220.4 184L1262.01 184L1303.62 184.4L1345.23 184.8L1386.84 185.6L1428.45 186.6L1470.07 188.3L1511.67 189.3L1553.28 191.7L1594.89 192.8L1636.5 194.8L1678.12 195.8L1719.72 198.9L1761.34 200.9L1802.95 203L1844.55 205.4L1886.16 207L1927.78 209.1L1969.38 211.1L2010.99 213.1" stroke="#000000" stroke-width="3.6" fill="none" stroke-linejoin="round" stroke-dasharray="3.9 6.1" stroke-dashoffset="2" shape-rendering="geometricPrecision"/>
<circle cx="1220.4" cy="184" r="6.7" fill="#000000"/><circle cx="1262.01" cy="184" r="6.7" fill="#000000"/><circle cx="1303.62" cy="184.4" r="6.7" fill="#000000"/><circle cx="1345.23" cy="184.8" r="6.7" fill="#000000"/><circle cx="1386.84" cy="185.6" r="6.7" fill="#000000"/><circle cx="1428.45" cy="186.6" r="6.7" fill="#000000"/><circle cx="1470.07" cy="188.3" r="6.7" fill="#000000"/><circle cx="1511.67" cy="189.3" r="6.7" fill="#000000"/><circle cx="1553.28" cy="191.7" r="6.7" fill="#000000"/><circle cx="1594.89" cy="192.8" r="6.7" fill="#000000"/><circle cx="1636.5" cy="194.8" r="6.7" fill="#000000"/><circle cx="1678.12" cy="195.8" r="6.7" fill="#000000"/><circle cx="1719.72" cy="198.9" r="6.7" fill="#000000"/><circle cx="1761.34" cy="200.9" r="6.7" fill="#000000"/><circle cx="1802.95" cy="203" r="6.7" fill="#000000"/><circle cx="1844.55" cy="205.4" r="6.7" fill="#000000"/><circle cx="1886.16" cy="207" r="6.7" fill="#000000"/><circle cx="1927.78" cy="209.1" r="6.7" fill="#000000"/><circle cx="1969.38" cy="211.1" r="6.7" fill="#000000"/><circle cx="2010.99" cy="213.1" r="6.7" fill="#000000"/>
<path d="M1220.4 172.4L1262.01 171.4L1303.62 168.9L1345.23 166.3L1386.84 162.6L1428.45 159.5L1470.07 156.1L1511.67 154L1553.28 151L1594.89 148.9L1636.5 148.5L1678.12 148.3L1719.72 148.3L1761.34 148.9L1802.95 150.6L1844.55 152.6L1886.16 154.6L1927.78 156.7L1969.38 158.7L2010.99 160.6" stroke="#ff0000" stroke-width="3.6" fill="none" stroke-linejoin="round"/>
<path d="M1220.4 164.43L1227.31 176.38L1213.5 176.38Z" fill="#ff0000"/><path d="M1262.01 163.43L1268.91 175.38L1255.11 175.38Z" fill="#ff0000"/><path d="M1303.62 160.93L1310.53 172.88L1296.72 172.88Z" fill="#ff0000"/><path d="M1345.23 158.33L1352.13 170.28L1338.33 170.28Z" fill="#ff0000"/><path d="M1386.84 154.63L1393.74 166.58L1379.94 166.58Z" fill="#ff0000"/><path d="M1428.45 151.53L1435.36 163.48L1421.55 163.48Z" fill="#ff0000"/><path d="M1470.07 148.13L1476.97 160.08L1463.16 160.08Z" fill="#ff0000"/><path d="M1511.67 146.03L1518.58 157.98L1504.77 157.98Z" fill="#ff0000"/><path d="M1553.28 143.03L1560.18 154.98L1546.38 154.98Z" fill="#ff0000"/><path d="M1594.89 140.93L1601.8 152.88L1587.99 152.88Z" fill="#ff0000"/><path d="M1636.5 140.53L1643.4 152.48L1629.6 152.48Z" fill="#ff0000"/><path d="M1678.12 140.33L1685.02 152.28L1671.21 152.28Z" fill="#ff0000"/><path d="M1719.72 140.33L1726.62 152.28L1712.82 152.28Z" fill="#ff0000"/><path d="M1761.34 140.93L1768.24 152.88L1754.43 152.88Z" fill="#ff0000"/><path d="M1802.95 142.63L1809.85 154.58L1796.05 154.58Z" fill="#ff0000"/><path d="M1844.55 144.63L1851.45 156.58L1837.65 156.58Z" fill="#ff0000"/><path d="M1886.16 146.63L1893.07 158.58L1879.26 158.58Z" fill="#ff0000"/><path d="M1927.78 148.73L1934.68 160.68L1920.88 160.68Z" fill="#ff0000"/><path d="M1969.38 150.73L1976.29 162.68L1962.48 162.68Z" fill="#ff0000"/><path d="M2010.99 152.63L2017.89 164.58L2004.09 164.58Z" fill="#ff0000"/>
<path d="M1220.4 215.2L1262.01 213.1L1303.62 212.1L1345.23 210.5L1386.84 209.1L1428.45 208.1L1470.07 207L1511.67 205L1553.28 204L1594.89 203L1636.5 202.6L1678.12 202.6L1719.72 203L1761.34 204L1802.95 205L1844.55 206.4L1886.16 208.1L1927.78 210.1L1969.38 211.7L2010.99 213.8" stroke="#ff0000" stroke-width="3.6" fill="none" stroke-linejoin="round" stroke-dasharray="3.9 6.1" stroke-dashoffset="2" shape-rendering="geometricPrecision"/>
<path d="M1220.4 207.23L1227.31 219.18L1213.5 219.18Z" fill="#ff0000"/><path d="M1262.01 205.13L1268.91 217.08L1255.11 217.08Z" fill="#ff0000"/><path d="M1303.62 204.13L1310.53 216.08L1296.72 216.08Z" fill="#ff0000"/><path d="M1345.23 202.53L1352.13 214.48L1338.33 214.48Z" fill="#ff0000"/><path d="M1386.84 201.13L1393.74 213.08L1379.94 213.08Z" fill="#ff0000"/><path d="M1428.45 200.13L1435.36 212.08L1421.55 212.08Z" fill="#ff0000"/><path d="M1470.07 199.03L1476.97 210.98L1463.16 210.98Z" fill="#ff0000"/><path d="M1511.67 197.03L1518.58 208.98L1504.77 208.98Z" fill="#ff0000"/><path d="M1553.28 196.03L1560.18 207.98L1546.38 207.98Z" fill="#ff0000"/><path d="M1594.89 195.03L1601.8 206.98L1587.99 206.98Z" fill="#ff0000"/><path d="M1636.5 194.63L1643.4 206.58L1629.6 206.58Z" fill="#ff0000"/><path d="M1678.12 194.63L1685.02 206.58L1671.21 206.58Z" fill="#ff0000"/><path d="M1719.72 195.03L1726.62 206.98L1712.82 206.98Z" fill="#ff0000"/><path d="M1761.34 196.03L1768.24 207.98L1754.43 207.98Z" fill="#ff0000"/><path d="M1802.95 197.03L1809.85 208.98L1796.05 208.98Z" fill="#ff0000"/><path d="M1844.55 198.43L1851.45 210.38L1837.65 210.38Z" fill="#ff0000"/><path d="M1886.16 200.13L1893.07 212.08L1879.26 212.08Z" fill="#ff0000"/><path d="M1927.78 202.13L1934.68 214.08L1920.88 214.08Z" fill="#ff0000"/><path d="M1969.38 203.73L1976.29 215.68L1962.48 215.68Z" fill="#ff0000"/><path d="M2010.99 205.83L2017.89 217.78L2004.09 217.78Z" fill="#ff0000"/>
<path d="M1220.4 261.1L1262.01 257L1303.62 247.2L1345.23 237.6L1386.84 225.4L1428.45 214.6L1470.07 201.9L1511.67 190.1L1553.28 179.9L1594.89 170.9L1636.5 164.8L1678.12 159.5L1719.72 156.1L1761.34 154L1802.95 153L1844.55 153.6L1886.16 155L1927.78 157.1L1969.38 159.1L2010.99 160.8" stroke="#00ff00" stroke-width="3.6" fill="none" stroke-linejoin="round"/>
<rect x="1214.57" y="255.26" width="11.68" height="11.68" fill="#00ff00"/><rect x="1256.17" y="251.16" width="11.68" height="11.68" fill="#00ff00"/><rect x="1297.79" y="241.36" width="11.68" height="11.68" fill="#00ff00"/><rect x="1339.39" y="231.76" width="11.68" height="11.68" fill="#00ff00"/><rect x="1381" y="219.56" width="11.68" height="11.68" fill="#00ff00"/><rect x="1422.62" y="208.76" width="11.68" height="11.68" fill="#00ff00"/><rect x="1464.23" y="196.06" width="11.68" height="11.68" fill="#00ff00"/><rect x="1505.84" y="184.26" width="11.68" height="11.68" fill="#00ff00"/><rect x="1547.44" y="174.06" width="11.68" height="11.68" fill="#00ff00"/><rect x="1589.06" y="165.06" width="11.68" height="11.68" fill="#00ff00"/><rect x="1630.66" y="158.96" width="11.68" height="11.68" fill="#00ff00"/><rect x="1672.28" y="153.66" width="11.68" height="11.68" fill="#00ff00"/><rect x="1713.88" y="150.26" width="11.68" height="11.68" fill="#00ff00"/><rect x="1755.5" y="148.16" width="11.68" height="11.68" fill="#00ff00"/><rect x="1797.11" y="147.16" width="11.68" height="11.68" fill="#00ff00"/><rect x="1838.71" y="147.76" width="11.68" height="11.68" fill="#00ff00"/><rect x="1880.33" y="149.16" width="11.68" height="11.68" fill="#00ff00"/><rect x="1921.94" y="151.26" width="11.68" height="11.68" fill="#00ff00"/><rect x="1963.55" y="153.26" width="11.68" height="11.68" fill="#00ff00"/><rect x="2005.15" y="154.96" width="11.68" height="11.68" fill="#00ff00"/>
<path d="M1220.4 289.3L1262.01 285.3L1303.62 278L1345.23 273.4L1386.84 266.5L1428.45 257.3L1470.07 250.9L1511.67 242.7L1553.28 235.6L1594.89 227.4L1636.5 221.7L1678.12 218.2L1719.72 214.2L1761.34 211.7L1802.95 210.1L1844.55 209.5L1886.16 210.1L1927.78 211.1L1969.38 212.7L2010.99 214.6" stroke="#00ff00" stroke-width="3.6" fill="none" stroke-linejoin="round" stroke-dasharray="3.9 6.1" stroke-dashoffset="2" shape-rendering="geometricPrecision"/>
<rect x="1214.57" y="283.46" width="11.68" height="11.68" fill="#00ff00"/><rect x="1256.17" y="279.46" width="11.68" height="11.68" fill="#00ff00"/><rect x="1297.79" y="272.16" width="11.68" height="11.68" fill="#00ff00"/><rect x="1339.39" y="267.56" width="11.68" height="11.68" fill="#00ff00"/><rect x="1381" y="260.66" width="11.68" height="11.68" fill="#00ff00"/><rect x="1422.62" y="251.46" width="11.68" height="11.68" fill="#00ff00"/><rect x="1464.23" y="245.06" width="11.68" height="11.68" fill="#00ff00"/><rect x="1505.84" y="236.86" width="11.68" height="11.68" fill="#00ff00"/><rect x="1547.44" y="229.76" width="11.68" height="11.68" fill="#00ff00"/><rect x="1589.06" y="221.56" width="11.68" height="11.68" fill="#00ff00"/><rect x="1630.66" y="215.86" width="11.68" height="11.68" fill="#00ff00"/><rect x="1672.28" y="212.36" width="11.68" height="11.68" fill="#00ff00"/><rect x="1713.88" y="208.36" width="11.68" height="11.68" fill="#00ff00"/><rect x="1755.5" y="205.86" width="11.68" height="11.68" fill="#00ff00"/><rect x="1797.11" y="204.26" width="11.68" height="11.68" fill="#00ff00"/><rect x="1838.71" y="203.66" width="11.68" height="11.68" fill="#00ff00"/><rect x="1880.33" y="204.26" width="11.68" height="11.68" fill="#00ff00"/><rect x="1921.94" y="205.26" width="11.68" height="11.68" fill="#00ff00"/><rect x="1963.55" y="206.86" width="11.68" height="11.68" fill="#00ff00"/><rect x="2005.15" y="208.76" width="11.68" height="11.68" fill="#00ff00"/>
<path d="M1220.4 370.3L1262.01 360.1L1303.62 347.5L1345.23 330.5L1386.84 310.8L1428.45 287.7L1470.07 267.3L1511.67 246L1553.28 223.3L1594.89 204L1636.5 187.7L1678.12 175.8L1719.72 166.3L1761.34 160.1L1802.95 156.1L1844.55 155.5L1886.16 156.7L1927.78 158.1L1969.38 159.7L2010.99 161.2" stroke="#0000ff" stroke-width="3.6" fill="none" stroke-linejoin="round"/>
<path d="M1220.4 378.27L1227.31 366.32L1213.5 366.32Z" fill="#0000ff"/><path d="M1262.01 368.07L1268.91 356.12L1255.11 356.12Z" fill="#0000ff"/><path d="M1303.62 355.47L1310.53 343.52L1296.72 343.52Z" fill="#0000ff"/><path d="M1345.23 338.47L1352.13 326.52L1338.33 326.52Z" fill="#0000ff"/><path d="M1386.84 318.77L1393.74 306.82L1379.94 306.82Z" fill="#0000ff"/><path d="M1428.45 295.67L1435.36 283.72L1421.55 283.72Z" fill="#0000ff"/><path d="M1470.07 275.27L1476.97 263.32L1463.16 263.32Z" fill="#0000ff"/><path d="M1511.67 253.97L1518.58 242.02L1504.77 242.02Z" fill="#0000ff"/><path d="M1553.28 231.27L1560.18 219.32L1546.38 219.32Z" fill="#0000ff"/><path d="M1594.89 211.97L1601.8 200.02L1587.99 200.02Z" fill="#0000ff"/><path d="M1636.5 195.67L1643.4 183.72L1629.6 183.72Z" fill="#0000ff"/><path d="M1678.12 183.77L1685.02 171.82L1671.21 171.82Z" fill="#0000ff"/><path d="M1719.72 174.27L1726.62 162.32L1712.82 162.32Z" fill="#0000ff"/><path d="M1761.34 168.07L1768.24 156.12L1754.43 156.12Z" fill="#0000ff"/><path d="M1802.95 164.07L1809.85 152.12L1796.05 152.12Z" fill="#0000ff"/><path d="M1844.55 163.47L1851.45 151.52L1837.65 151.52Z" fill="#0000ff"/><path d="M1886.16 164.67L1893.07 152.72L1879.26 152.72Z" fill="#0000ff"/><path d="M1927.78 166.07L1934.68 154.12L1920.88 154.12Z" fill="#0000ff"/><path d="M1969.38 167.67L1976.29 155.72L1962.48 155.72Z" fill="#0000ff"/><path d="M2010.99 169.17L2017.89 157.22L2004.09 157.22Z" fill="#0000ff"/>
<path d="M1220.4 374.4L1262.01 371.3L1303.62 363.1L1345.23 354L1386.84 338.7L1428.45 320.3L1470.07 306.1L1511.67 287.7L1553.28 272.4L1594.89 258.6L1636.5 243.7L1678.12 235.6L1719.72 227.4L1761.34 220.3L1802.95 216.2L1844.55 213.8L1886.16 213.1L1927.78 213.8L1969.38 214.6L2010.99 215.8" stroke="#0000ff" stroke-width="3.6" fill="none" stroke-linejoin="round" stroke-dasharray="3.9 6.1" stroke-dashoffset="2" shape-rendering="geometricPrecision"/>
<path d="M1220.4 382.37L1227.31 370.42L1213.5 370.42Z" fill="#0000ff"/><path d="M1262.01 379.27L1268.91 367.32L1255.11 367.32Z" fill="#0000ff"/><path d="M1303.62 371.07L1310.53 359.12L1296.72 359.12Z" fill="#0000ff"/><path d="M1345.23 361.97L1352.13 350.02L1338.33 350.02Z" fill="#0000ff"/><path d="M1386.84 346.67L1393.74 334.72L1379.94 334.72Z" fill="#0000ff"/><path d="M1428.45 328.27L1435.36 316.32L1421.55 316.32Z" fill="#0000ff"/><path d="M1470.07 314.07L1476.97 302.12L1463.16 302.12Z" fill="#0000ff"/><path d="M1511.67 295.67L1518.58 283.72L1504.77 283.72Z" fill="#0000ff"/><path d="M1553.28 280.37L1560.18 268.42L1546.38 268.42Z" fill="#0000ff"/><path d="M1594.89 266.57L1601.8 254.62L1587.99 254.62Z" fill="#0000ff"/><path d="M1636.5 251.67L1643.4 239.72L1629.6 239.72Z" fill="#0000ff"/><path d="M1678.12 243.57L1685.02 231.62L1671.21 231.62Z" fill="#0000ff"/><path d="M1719.72 235.37L1726.62 223.42L1712.82 223.42Z" fill="#0000ff"/><path d="M1761.34 228.27L1768.24 216.32L1754.43 216.32Z" fill="#0000ff"/><path d="M1802.95 224.17L1809.85 212.22L1796.05 212.22Z" fill="#0000ff"/><path d="M1844.55 221.77L1851.45 209.82L1837.65 209.82Z" fill="#0000ff"/><path d="M1886.16 221.07L1893.07 209.12L1879.26 209.12Z" fill="#0000ff"/><path d="M1927.78 221.77L1934.68 209.82L1920.88 209.82Z" fill="#0000ff"/><path d="M1969.38 222.57L1976.29 210.62L1962.48 210.62Z" fill="#0000ff"/><path d="M2010.99 223.77L2017.89 211.82L2004.09 211.82Z" fill="#0000ff"/>
<path d="M1220.4 461.8L1262.01 458.9L1303.62 445.5L1345.23 428.7L1386.84 408.5L1428.45 372.3L1470.07 340.7L1511.67 307.7L1553.28 273.4L1594.89 243.3L1636.5 216.2L1678.12 194.8L1719.72 179.1L1761.34 167.3L1802.95 160.1L1844.55 158.1L1886.16 158.1L1927.78 159.1L1969.38 160.3L2010.99 161.6" stroke="#ffa500" stroke-width="3.6" fill="none" stroke-linejoin="round"/>
<path d="M1213.7 461.8H1227.11M1220.4 455.1V468.5M1215.67 457.06L1225.14 466.54M1215.67 466.54L1225.14 457.06" stroke="#ffa500" stroke-width="1.1" fill="none"/><path d="M1255.31 458.9H1268.71M1262.01 452.2V465.6M1257.28 454.16L1266.75 463.64M1257.28 463.64L1266.75 454.16" stroke="#ffa500" stroke-width="1.1" fill="none"/><path d="M1296.92 445.5H1310.33M1303.62 438.8V452.2M1298.89 440.76L1308.36 450.24M1298.89 450.24L1308.36 440.76" stroke="#ffa500" stroke-width="1.1" fill="none"/><path d="M1338.53 428.7H1351.93M1345.23 422V435.4M1340.5 423.96L1349.97 433.44M1340.5 433.44L1349.97 423.96" stroke="#ffa500" stroke-width="1.1" fill="none"/><path d="M1380.14 408.5H1393.54M1386.84 401.8V415.2M1382.11 403.76L1391.58 413.24M1382.11 413.24L1391.58 403.76" stroke="#ffa500" stroke-width="1.1" fill="none"/><path d="M1421.75 372.3H1435.15M1428.45 365.6V379M1423.72 367.56L1433.19 377.04M1423.72 377.04L1433.19 367.56" stroke="#ffa500" stroke-width="1.1" fill="none"/><path d="M1463.37 340.7H1476.77M1470.07 334V347.4M1465.33 335.96L1474.8 345.44M1465.33 345.44L1474.8 335.96" stroke="#ffa500" stroke-width="1.1" fill="none"/><path d="M1504.97 307.7H1518.38M1511.67 301V314.4M1506.94 302.96L1516.41 312.44M1506.94 312.44L1516.41 302.96" stroke="#ffa500" stroke-width="1.1" fill="none"/><path d="M1546.58 273.4H1559.98M1553.28 266.7V280.1M1548.55 268.66L1558.02 278.14M1548.55 278.14L1558.02 268.66" stroke="#ffa500" stroke-width="1.1" fill="none"/><path d="M1588.19 243.3H1601.6M1594.89 236.6V250M1590.16 238.56L1599.63 248.04M1590.16 248.04L1599.63 238.56" stroke="#ffa500" stroke-width="1.1" fill="none"/><path d="M1629.8 216.2H1643.2M1636.5 209.5V222.9M1631.77 211.46L1641.24 220.94M1631.77 220.94L1641.24 211.46" stroke="#ffa500" stroke-width="1.1" fill="none"/><path d="M1671.41 194.8H1684.82M1678.12 188.1V201.5M1673.38 190.06L1682.85 199.54M1673.38 199.54L1682.85 190.06" stroke="#ffa500" stroke-width="1.1" fill="none"/><path d="M1713.02 179.1H1726.42M1719.72 172.4V185.8M1714.99 174.36L1724.46 183.84M1714.99 183.84L1724.46 174.36" stroke="#ffa500" stroke-width="1.1" fill="none"/><path d="M1754.63 167.3H1768.04M1761.34 160.6V174M1756.6 162.56L1766.07 172.04M1756.6 172.04L1766.07 162.56" stroke="#ffa500" stroke-width="1.1" fill="none"/><path d="M1796.25 160.1H1809.65M1802.95 153.4V166.8M1798.21 155.36L1807.68 164.84M1798.21 164.84L1807.68 155.36" stroke="#ffa500" stroke-width="1.1" fill="none"/><path d="M1837.85 158.1H1851.25M1844.55 151.4V164.8M1839.82 153.36L1849.29 162.84M1839.82 162.84L1849.29 153.36" stroke="#ffa500" stroke-width="1.1" fill="none"/><path d="M1879.46 158.1H1892.87M1886.16 151.4V164.8M1881.43 153.36L1890.9 162.84M1881.43 162.84L1890.9 153.36" stroke="#ffa500" stroke-width="1.1" fill="none"/><path d="M1921.08 159.1H1934.48M1927.78 152.4V165.8M1923.04 154.36L1932.51 163.84M1923.04 163.84L1932.51 154.36" stroke="#ffa500" stroke-width="1.1" fill="none"/><path d="M1962.68 160.3H1976.09M1969.38 153.6V167M1964.65 155.56L1974.12 165.04M1964.65 165.04L1974.12 155.56" stroke="#ffa500" stroke-width="1.1" fill="none"/><path d="M2004.29 161.6H2017.69M2010.99 154.9V168.3M2006.26 156.86L2015.73 166.34M2006.26 166.34L2015.73 156.86" stroke="#ffa500" stroke-width="1.1" fill="none"/>
<path d="M1220.4 448.1L1262.01 446.7L1303.62 433.8L1345.23 427.7L1386.84 413.6L1428.45 389.8L1470.07 362.1L1511.67 339.1L1553.28 314.2L1594.89 295.3L1636.5 269.2L1678.12 250.9L1719.72 239.7L1761.34 229.5L1802.95 222.3L1844.55 218.2L1886.16 216.2L1927.78 215.8L1969.38 216.2L2010.99 216.8" stroke="#ffa500" stroke-width="3.6" fill="none" stroke-linejoin="round" stroke-dasharray="3.9 6.1" stroke-dashoffset="2" shape-rendering="geometricPrecision"/>
<path d="M1213.7 448.1H1227.11M1220.4 441.4V454.8M1215.67 443.36L1225.14 452.84M1215.67 452.84L1225.14 443.36" stroke="#ffa500" stroke-width="1.1" fill="none"/><path d="M1255.31 446.7H1268.71M1262.01 440V453.4M1257.28 441.96L1266.75 451.44M1257.28 451.44L1266.75 441.96" stroke="#ffa500" stroke-width="1.1" fill="none"/><path d="M1296.92 433.8H1310.33M1303.62 427.1V440.5M1298.89 429.06L1308.36 438.54M1298.89 438.54L1308.36 429.06" stroke="#ffa500" stroke-width="1.1" fill="none"/><path d="M1338.53 427.7H1351.93M1345.23 421V434.4M1340.5 422.96L1349.97 432.44M1340.5 432.44L1349.97 422.96" stroke="#ffa500" stroke-width="1.1" fill="none"/><path d="M1380.14 413.6H1393.54M1386.84 406.9V420.3M1382.11 408.86L1391.58 418.34M1382.11 418.34L1391.58 408.86" stroke="#ffa500" stroke-width="1.1" fill="none"/><path d="M1421.75 389.8H1435.15M1428.45 383.1V396.5M1423.72 385.06L1433.19 394.54M1423.72 394.54L1433.19 385.06" stroke="#ffa500" stroke-width="1.1" fill="none"/><path d="M1463.37 362.1H1476.77M1470.07 355.4V368.8M1465.33 357.36L1474.8 366.84M1465.33 366.84L1474.8 357.36" stroke="#ffa500" stroke-width="1.1" fill="none"/><path d="M1504.97 339.1H1518.38M1511.67 332.4V345.8M1506.94 334.36L1516.41 343.84M1506.94 343.84L1516.41 334.36" stroke="#ffa500" stroke-width="1.1" fill="none"/><path d="M1546.58 314.2H1559.98M1553.28 307.5V320.9M1548.55 309.46L1558.02 318.94M1548.55 318.94L1558.02 309.46" stroke="#ffa500" stroke-width="1.1" fill="none"/><path d="M1588.19 295.3H1601.6M1594.89 288.6V302M1590.16 290.56L1599.63 300.04M1590.16 300.04L1599.63 290.56" stroke="#ffa500" stroke-width="1.1" fill="none"/><path d="M1629.8 269.2H1643.2M1636.5 262.5V275.9M1631.77 264.46L1641.24 273.94M1631.77 273.94L1641.24 264.46" stroke="#ffa500" stroke-width="1.1" fill="none"/><path d="M1671.41 250.9H1684.82M1678.12 244.2V257.6M1673.38 246.16L1682.85 255.64M1673.38 255.64L1682.85 246.16" stroke="#ffa500" stroke-width="1.1" fill="none"/><path d="M1713.02 239.7H1726.42M1719.72 233V246.4M1714.99 234.96L1724.46 244.44M1714.99 244.44L1724.46 234.96" stroke="#ffa500" stroke-width="1.1" fill="none"/><path d="M1754.63 229.5H1768.04M1761.34 222.8V236.2M1756.6 224.76L1766.07 234.24M1756.6 234.24L1766.07 224.76" stroke="#ffa500" stroke-width="1.1" fill="none"/><path d="M1796.25 222.3H1809.65M1802.95 215.6V229M1798.21 217.56L1807.68 227.04M1798.21 227.04L1807.68 217.56" stroke="#ffa500" stroke-width="1.1" fill="none"/><path d="M1837.85 218.2H1851.25M1844.55 211.5V224.9M1839.82 213.46L1849.29 222.94M1839.82 222.94L1849.29 213.46" stroke="#ffa500" stroke-width="1.1" fill="none"/><path d="M1879.46 216.2H1892.87M1886.16 209.5V222.9M1881.43 211.46L1890.9 220.94M1881.43 220.94L1890.9 211.46" stroke="#ffa500" stroke-width="1.1" fill="none"/><path d="M1921.08 215.8H1934.48M1927.78 209.1V222.5M1923.04 211.06L1932.51 220.54M1923.04 220.54L1932.51 211.06" stroke="#ffa500" stroke-width="1.1" fill="none"/><path d="M1962.68 216.2H1976.09M1969.38 209.5V222.9M1964.65 211.46L1974.12 220.94M1964.65 220.94L1974.12 211.46" stroke="#ffa500" stroke-width="1.1" fill="none"/><path d="M2004.29 216.8H2017.69M2010.99 210.1V223.5M2006.26 212.06L2015.73 221.54M2006.26 221.54L2015.73 212.06" stroke="#ffa500" stroke-width="1.1" fill="none"/>
<path d="M1220.4 530.7L1262.01 531.1L1303.62 519.5L1345.23 515.4L1386.84 486.8L1428.45 461.4L1470.07 429.1L1511.67 374.4L1553.28 333.2L1594.89 285.7L1636.5 245.8L1678.12 213.1L1719.72 190.7L1761.34 177.9L1802.95 168.3L1844.55 162.2L1886.16 160.8L1927.78 160.8L1969.38 161.2L2010.99 162" stroke="#670748" stroke-width="3.6" fill="none" stroke-linejoin="round"/>
<path d="M1220.4 523.8L1227.31 530.7L1220.4 537.6L1213.5 530.7Z" fill="#670748"/><path d="M1262.01 524.2L1268.91 531.1L1262.01 538L1255.11 531.1Z" fill="#670748"/><path d="M1303.62 512.6L1310.53 519.5L1303.62 526.4L1296.72 519.5Z" fill="#670748"/><path d="M1345.23 508.5L1352.13 515.4L1345.23 522.3L1338.33 515.4Z" fill="#670748"/><path d="M1386.84 479.9L1393.74 486.8L1386.84 493.7L1379.94 486.8Z" fill="#670748"/><path d="M1428.45 454.5L1435.36 461.4L1428.45 468.3L1421.55 461.4Z" fill="#670748"/><path d="M1470.07 422.2L1476.97 429.1L1470.07 436L1463.16 429.1Z" fill="#670748"/><path d="M1511.67 367.5L1518.58 374.4L1511.67 381.3L1504.77 374.4Z" fill="#670748"/><path d="M1553.28 326.3L1560.18 333.2L1553.28 340.1L1546.38 333.2Z" fill="#670748"/><path d="M1594.89 278.8L1601.8 285.7L1594.89 292.6L1587.99 285.7Z" fill="#670748"/><path d="M1636.5 238.9L1643.4 245.8L1636.5 252.7L1629.6 245.8Z" fill="#670748"/><path d="M1678.12 206.2L1685.02 213.1L1678.12 220L1671.21 213.1Z" fill="#670748"/><path d="M1719.72 183.8L1726.62 190.7L1719.72 197.6L1712.82 190.7Z" fill="#670748"/><path d="M1761.34 171L1768.24 177.9L1761.34 184.8L1754.43 177.9Z" fill="#670748"/><path d="M1802.95 161.4L1809.85 168.3L1802.95 175.2L1796.05 168.3Z" fill="#670748"/><path d="M1844.55 155.3L1851.45 162.2L1844.55 169.1L1837.65 162.2Z" fill="#670748"/><path d="M1886.16 153.9L1893.07 160.8L1886.16 167.7L1879.26 160.8Z" fill="#670748"/><path d="M1927.78 153.9L1934.68 160.8L1927.78 167.7L1920.88 160.8Z" fill="#670748"/><path d="M1969.38 154.3L1976.29 161.2L1969.38 168.1L1962.48 161.2Z" fill="#670748"/><path d="M2010.99 155.1L2017.89 162L2010.99 168.9L2004.09 162Z" fill="#670748"/>
<path d="M1220.4 483.8L1262.01 507.6L1303.62 482.2L1345.23 484.2L1386.84 462.4L1428.45 441L1470.07 422.6L1511.67 389.5L1553.28 360.1L1594.89 329.5L1636.5 295L1678.12 271.3L1719.72 254.3L1761.34 237.6L1802.95 228.8L1844.55 224.4L1886.16 220.3L1927.78 218.2L1969.38 217.8L2010.99 218.2" stroke="#670748" stroke-width="3.6" fill="none" stroke-linejoin="round" stroke-dasharray="3.9 6.1" stroke-dashoffset="2" shape-rendering="geometricPrecision"/>
<path d="M1220.4 476.9L1227.31 483.8L1220.4 490.7L1213.5 483.8Z" fill="#670748"/><path d="M1262.01 500.7L1268.91 507.6L1262.01 514.5L1255.11 507.6Z" fill="#670748"/><path d="M1303.62 475.3L1310.53 482.2L1303.62 489.1L1296.72 482.2Z" fill="#670748"/><path d="M1345.23 477.3L1352.13 484.2L1345.23 491.1L1338.33 484.2Z" fill="#670748"/><path d="M1386.84 455.5L1393.74 462.4L1386.84 469.3L1379.94 462.4Z" fill="#670748"/><path d="M1428.45 434.1L1435.36 441L1428.45 447.9L1421.55 441Z" fill="#670748"/><path d="M1470.07 415.7L1476.97 422.6L1470.07 429.5L1463.16 422.6Z" fill="#670748"/><path d="M1511.67 382.6L1518.58 389.5L1511.67 396.4L1504.77 389.5Z" fill="#670748"/><path d="M1553.28 353.2L1560.18 360.1L1553.28 367L1546.38 360.1Z" fill="#670748"/><path d="M1594.89 322.6L1601.8 329.5L1594.89 336.4L1587.99 329.5Z" fill="#670748"/><path d="M1636.5 288.1L1643.4 295L1636.5 301.9L1629.6 295Z" fill="#670748"/><path d="M1678.12 264.4L1685.02 271.3L1678.12 278.2L1671.21 271.3Z" fill="#670748"/><path d="M1719.72 247.4L1726.62 254.3L1719.72 261.2L1712.82 254.3Z" fill="#670748"/><path d="M1761.34 230.7L1768.24 237.6L1761.34 244.5L1754.43 237.6Z" fill="#670748"/><path d="M1802.95 221.9L1809.85 228.8L1802.95 235.7L1796.05 228.8Z" fill="#670748"/><path d="M1844.55 217.5L1851.45 224.4L1844.55 231.3L1837.65 224.4Z" fill="#670748"/><path d="M1886.16 213.4L1893.07 220.3L1886.16 227.2L1879.26 220.3Z" fill="#670748"/><path d="M1927.78 211.3L1934.68 218.2L1927.78 225.1L1920.88 218.2Z" fill="#670748"/><path d="M1969.38 210.9L1976.29 217.8L1969.38 224.7L1962.48 217.8Z" fill="#670748"/><path d="M2010.99 211.3L2017.89 218.2L2010.99 225.1L2004.09 218.2Z" fill="#670748"/>
</g>
<text transform="translate(1162.4 664.8) scale(0.97 1)" font-size="54.4" text-anchor="end">10</text>
<text transform="translate(1161.03 632.7) scale(1.04 1)" font-size="38.08" text-anchor="start">-9</text>
<text transform="translate(1162.4 548.44) scale(0.97 1)" font-size="54.4" text-anchor="end">10</text>
<text transform="translate(1161.03 516.34) scale(1.04 1)" font-size="38.08" text-anchor="start">-8</text>
<text transform="translate(1162.4 432.08) scale(0.97 1)" font-size="54.4" text-anchor="end">10</text>
<text transform="translate(1161.03 399.98) scale(1.04 1)" font-size="38.08" text-anchor="start">-7</text>
<text transform="translate(1162.4 315.72) scale(0.97 1)" font-size="54.4" text-anchor="end">10</text>
<text transform="translate(1161.03 283.62) scale(1.04 1)" font-size="38.08" text-anchor="start">-6</text>
<text transform="translate(1162.4 199.36) scale(0.97 1)" font-size="54.4" text-anchor="end">10</text>
<text transform="translate(1161.03 167.26) scale(1.04 1)" font-size="38.08" text-anchor="start">-5</text>
<text transform="translate(1162.4 83) scale(0.97 1)" font-size="54.4" text-anchor="end">10</text>
<text transform="translate(1161.03 50.9) scale(1.04 1)" font-size="38.08" text-anchor="start">-4</text>
<text transform="translate(1201.1 681.2) scale(0.95 1)" font-size="54.7" text-anchor="middle">0</text>
<text transform="translate(1305.12 681.2) scale(0.95 1)" font-size="54.7" text-anchor="middle">0.5</text>
<text transform="translate(1409.15 681.2) scale(0.95 1)" font-size="54.7" text-anchor="middle">1</text>
<text transform="translate(1513.17 681.2) scale(0.95 1)" font-size="54.7" text-anchor="middle">1.5</text>
<text transform="translate(1617.2 681.2) scale(0.95 1)" font-size="54.7" text-anchor="middle">2</text>
<text transform="translate(1721.22 681.2) scale(0.95 1)" font-size="54.7" text-anchor="middle">2.5</text>
<text transform="translate(1825.25 681.2) scale(0.95 1)" font-size="54.7" text-anchor="middle">3</text>
<text transform="translate(1929.28 681.2) scale(0.95 1)" font-size="54.7" text-anchor="middle">3.5</text>
<text transform="translate(2033.3 681.2) scale(0.95 1)" font-size="54.7" text-anchor="middle">4</text>
<text transform="translate(1615.7 725.8) scale(1.03 1)" font-size="51.5" text-anchor="middle">F(<tspan class="gk" font-size="57">σ</tspan>/eb)</text>
<text transform="translate(1080 344.8) rotate(-90) scale(1.03 1)" font-size="50" text-anchor="middle"><tspan class="gk" font-size="57">μ</tspan>(<tspan class="gk" font-size="57">μ</tspan><tspan font-size="35.5" dy="19">0</tspan><tspan dy="-19">)</tspan></text>
<path d="M1337.2 533.7H1381" stroke="#000" stroke-width="6.8" shape-rendering="crispEdges"/>
<path d="M1338.9 575.2H1386" stroke="#000" stroke-width="6.4" stroke-dasharray="6.4 13.1" shape-rendering="crispEdges"/>
<text transform="translate(1384.3 539.8) scale(0.98 1)" font-size="44.5" text-anchor="start" class="m">without spatial disorder</text>
<text transform="translate(1384.3 585.4) scale(0.98 1)" font-size="44.5" text-anchor="start" class="m">with spatial disorder</text>
<circle cx="1821.7" cy="372.3" r="6.7" fill="#000000"/>
<text transform="translate(1834.4 377.6) scale(0.99 1)" font-size="35.8" text-anchor="start" class="s"><tspan class="gk" font-size="39.38">σ</tspan>/k<tspan font-size="24.7" dy="13.5">B</tspan><tspan dy="-13.5">T = 1.0</tspan></text>
<path d="M1821.7 410.63L1828.6 422.58L1814.8 422.58Z" fill="#ff0000"/>
<text transform="translate(1834.4 423.9) scale(0.99 1)" font-size="35.8" text-anchor="start" class="s"><tspan class="gk" font-size="39.38">σ</tspan>/k<tspan font-size="24.7" dy="13.5">B</tspan><tspan dy="-13.5">T = 2.0</tspan></text>
<rect x="1815.86" y="459.06" width="11.68" height="11.68" fill="#00ff00"/>
<text transform="translate(1834.4 470.2) scale(0.99 1)" font-size="35.8" text-anchor="start" class="s"><tspan class="gk" font-size="39.38">σ</tspan>/k<tspan font-size="24.7" dy="13.5">B</tspan><tspan dy="-13.5">T = 3.0</tspan></text>
<path d="M1821.7 519.17L1828.6 507.22L1814.8 507.22Z" fill="#0000ff"/>
<text transform="translate(1834.4 516.5) scale(0.99 1)" font-size="35.8" text-anchor="start" class="s"><tspan class="gk" font-size="39.38">σ</tspan>/k<tspan font-size="24.7" dy="13.5">B</tspan><tspan dy="-13.5">T = 4.0</tspan></text>
<path d="M1815 557.5H1828.4M1821.7 550.8V564.2M1816.96 552.76L1826.44 562.24M1816.96 562.24L1826.44 552.76" stroke="#ffa500" stroke-width="1.1" fill="none"/>
<text transform="translate(1834.4 562.8) scale(0.99 1)" font-size="35.8" text-anchor="start" class="s"><tspan class="gk" font-size="39.38">σ</tspan>/k<tspan font-size="24.7" dy="13.5">B</tspan><tspan dy="-13.5">T = 5.0</tspan></text>
<path d="M1821.7 596.9L1828.6 603.8L1821.7 610.7L1814.8 603.8Z" fill="#670748"/>
<text transform="translate(1834.4 609.1) scale(0.99 1)" font-size="35.8" text-anchor="start" class="s"><tspan class="gk" font-size="39.38">σ</tspan>/k<tspan font-size="24.7" dy="13.5">B</tspan><tspan dy="-13.5">T = 6.0</tspan></text>
<text transform="translate(1503.1 836.8) scale(1 1)" font-size="86" text-anchor="start">(</text>
<text transform="translate(1530 837.2) scale(1 1)" font-size="87" text-anchor="start" font-weight="bold">b</text>
<text transform="translate(1606.3 836.8) scale(1 1)" font-size="86" text-anchor="end">)</text>
</g>
</svg>
</body></html>
